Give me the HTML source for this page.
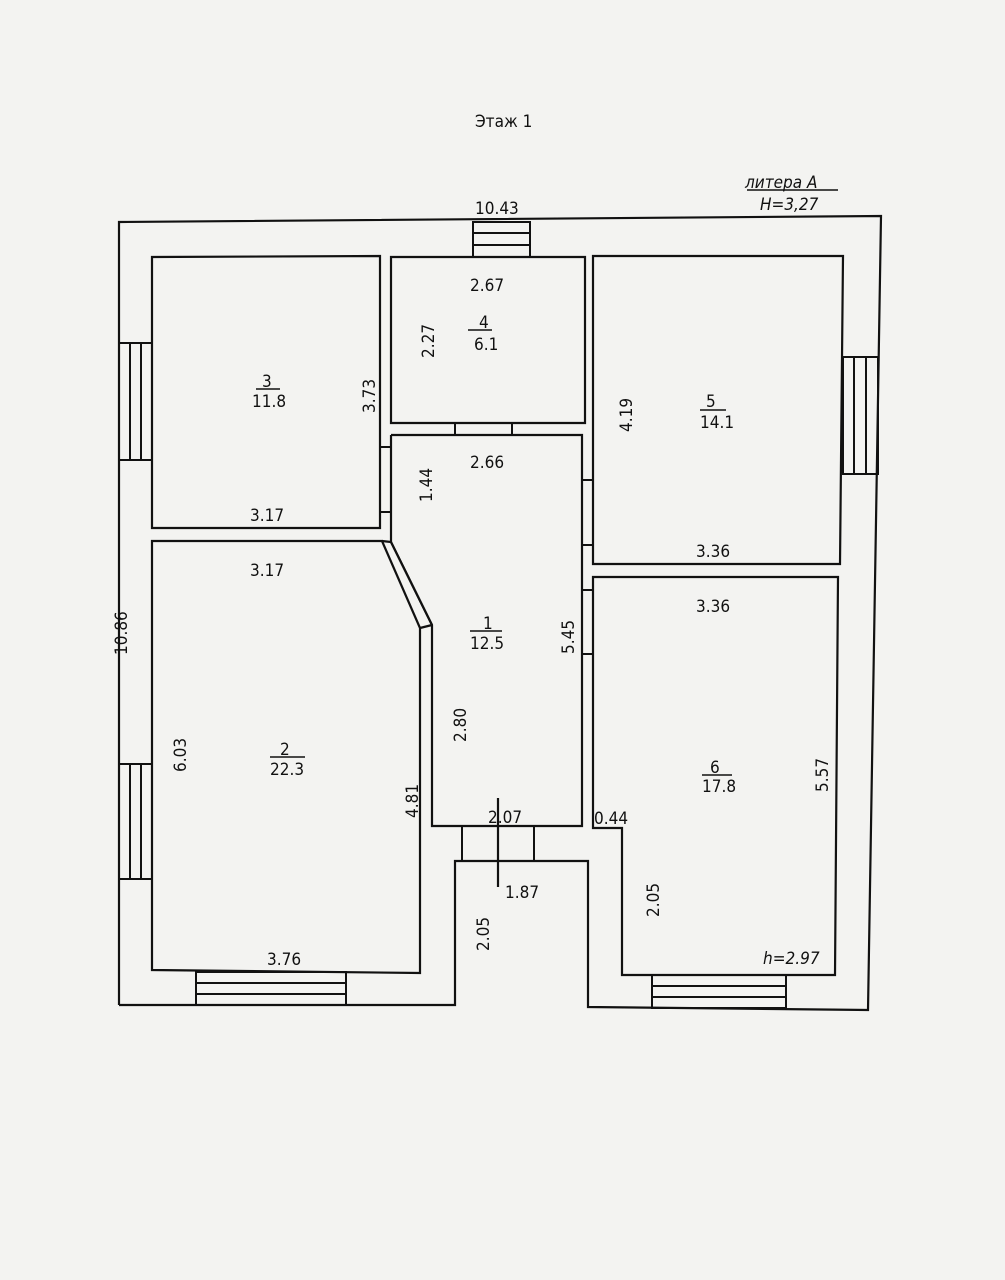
<!DOCTYPE html>
<html><head><meta charset="utf-8"><style>
html,body{margin:0;padding:0;background:#f3f3f1;}
svg{display:block}
text{font-family:"DejaVu Sans Condensed","DejaVu Sans","Liberation Sans",sans-serif;font-size:17px;fill:#111}
</style></head><body>
<svg width="1005" height="1280" viewBox="0 0 1005 1280" xmlns="http://www.w3.org/2000/svg">
<rect width="1005" height="1280" fill="#f3f3f1"/>
<g fill="none" stroke="#111" stroke-width="2.2">
<!-- outer -->
<polyline points="119,1005 119,222 881,216 868,1010 588,1007 588,861 455,861 455,1005 119,1005"/>
<!-- room 3 -->
<polygon points="152,257 380,256 380,528 152,528"/>
<!-- room 4 -->
<polygon points="391,257 585,257 585,423 391,423"/>
<!-- room 5 -->
<polygon points="593,256 843,256 840,564 593,564"/>
<!-- room 1 -->
<polyline points="391,435 582,435 582,826 432,826 432,625 391,542 391,435"/>
<!-- room 2 -->
<polygon points="152,541 382,541 420,628 420,973 152,970"/>
<!-- room 6 -->
<polygon points="593,577 838,577 835,975 622,975 622,828 593,828"/>
<!-- diagonal wall inner line -->
<line x1="382" y1="541" x2="391" y2="542"/>
<line x1="420" y1="628" x2="432" y2="625"/>
<!-- windows -->
<g stroke-width="2">
<rect x="119" y="343" width="33" height="117"/><line x1="130" y1="343" x2="130" y2="460"/><line x1="141" y1="343" x2="141" y2="460"/>
<rect x="119" y="764" width="33" height="115"/><line x1="130" y1="764" x2="130" y2="879"/><line x1="141" y1="764" x2="141" y2="879"/>
<rect x="473" y="222" width="57" height="35"/><line x1="473" y1="233" x2="530" y2="233"/><line x1="473" y1="245" x2="530" y2="245"/>
<rect x="843" y="357" width="35" height="117"/><line x1="854" y1="357" x2="854" y2="474"/><line x1="866" y1="357" x2="866" y2="474"/>
<rect x="196" y="972" width="150" height="33"/><line x1="196" y1="983" x2="346" y2="983"/><line x1="196" y1="994" x2="346" y2="994"/>
<rect x="652" y="975" width="134" height="33"/><line x1="652" y1="986" x2="786" y2="986"/><line x1="652" y1="997" x2="786" y2="997"/>
<!-- doors -->
<rect x="380" y="447" width="11" height="65"/>
<rect x="455" y="423" width="57" height="12"/>
<rect x="582" y="480" width="11" height="65"/>
<rect x="582" y="590" width="11" height="64"/>
<rect x="462" y="826" width="72" height="35"/>
</g>
<line x1="498" y1="798" x2="498" y2="887"/>
<!-- diagonal wall -->
<line x1="391" y1="542" x2="432" y2="625"/>
<line x1="747" y1="190" x2="838" y2="190" stroke-width="1.5"/>
<line x1="256" y1="389" x2="280" y2="389" stroke-width="1.5"/>
<line x1="468" y1="330" x2="492" y2="330" stroke-width="1.5"/>
<line x1="700" y1="410" x2="726" y2="410" stroke-width="1.5"/>
<line x1="470" y1="631" x2="502" y2="631" stroke-width="1.5"/>
<line x1="270" y1="757" x2="305" y2="757" stroke-width="1.5"/>
<line x1="702" y1="775" x2="732" y2="775" stroke-width="1.5"/>
</g>
<text x="475" y="127">Этаж 1</text>
<text x="745" y="188" font-style="italic">литера А</text>
<text x="760" y="210" font-style="italic">Н=3,27</text>
<text x="475" y="214">10.43</text>
<text x="470" y="291">2.67</text>
<text x="479" y="328">4</text>
<text x="474" y="350">6.1</text>
<text x="262" y="387">3</text>
<text x="252" y="407">11.8</text>
<text x="250" y="521">3.17</text>
<text x="250" y="576">3.17</text>
<text x="470" y="468">2.66</text>
<text x="706" y="407">5</text>
<text x="700" y="428">14.1</text>
<text x="696" y="557">3.36</text>
<text x="696" y="612">3.36</text>
<text x="483" y="629">1</text>
<text x="470" y="649">12.5</text>
<text x="280" y="755">2</text>
<text x="270" y="775">22.3</text>
<text x="710" y="773">6</text>
<text x="702" y="792">17.8</text>
<text x="488" y="823">2.07</text>
<text x="594" y="824">0.44</text>
<text x="505" y="898">1.87</text>
<text x="267" y="965">3.76</text>
<text x="763" y="964" font-style="italic">h=2.97</text>
<g>
<text transform="translate(434,358) rotate(-90)">2.27</text>
<text transform="translate(375,413) rotate(-90)">3.73</text>
<text transform="translate(432,502) rotate(-90)">1.44</text>
<text transform="translate(632,432) rotate(-90)">4.19</text>
<text transform="translate(574,654) rotate(-90)">5.45</text>
<text transform="translate(127,655) rotate(-90)">10.86</text>
<text transform="translate(186,772) rotate(-90)">6.03</text>
<text transform="translate(466,742) rotate(-90)">2.80</text>
<text transform="translate(418,818) rotate(-90)">4.81</text>
<text transform="translate(828,792) rotate(-90)">5.57</text>
<text transform="translate(659,917) rotate(-90)">2.05</text>
<text transform="translate(489,951) rotate(-90)">2.05</text>
</g>
</svg>
</body></html>
